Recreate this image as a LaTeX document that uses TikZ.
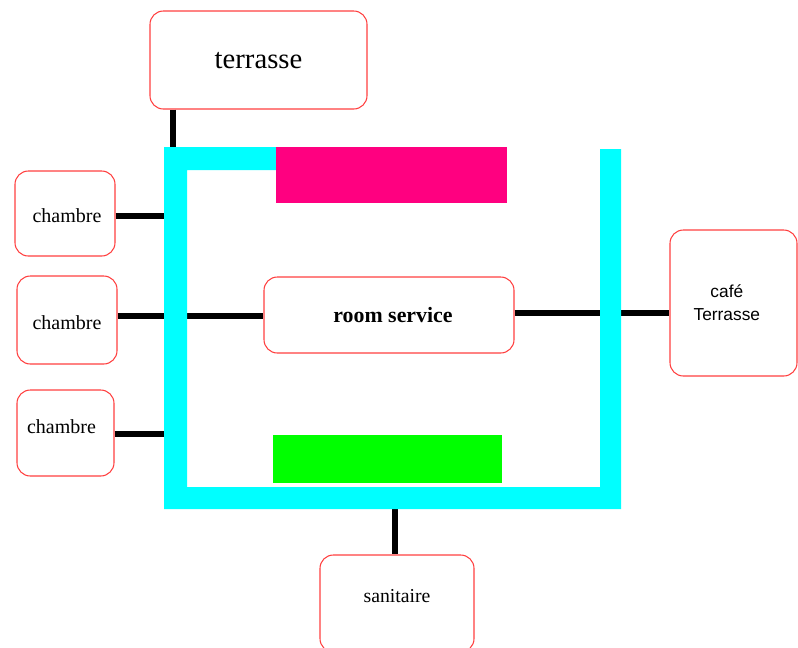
\documentclass[tikz,border=0pt]{standalone}
\usepackage{fontspec}
\setmainfont{Liberation Serif}
\newfontfamily\cafefont{Liberation Sans}
\usetikzlibrary{positioning}
\definecolor{planred}{RGB}{255,64,64}
\definecolor{plancyan}{RGB}{0,255,255}
\definecolor{planpink}{RGB}{255,0,128}
\definecolor{plangreen}{RGB}{0,255,0}

\begin{document}
\begin{tikzpicture}[
  x=0.75pt, y=-0.75pt,
  room/.style={draw=planred, line width=0.8pt, rounded corners=10pt, fill=white, inner sep=0pt, align=center},
  link/.style={line width=5pt, black},
  wall/.style={fill=plancyan},
]
\useasboundingbox (0,0) rectangle (798,647);

% Rooms
\node[room, minimum width=162.75pt, minimum height=73.5pt, font=\fontsize{21.5}{25}\selectfont] (terrasse) at (258.5,60) {\smash{\raisebox{-6.5pt}{terrasse}}};
\node[room, minimum width=75pt, minimum height=63.75pt, font=\fontsize{15}{18}\selectfont] (ch1) at (65,213.5) {\hspace*{3pt}\smash{\raisebox{-7pt}{chambre}}};
\node[room, minimum width=75pt, minimum height=66pt, font=\fontsize{15}{18}\selectfont] (ch2) at (67,320) {\smash{\raisebox{-6.75pt}{chambre}}};
\node[room, minimum width=72.75pt, minimum height=64.5pt, font=\fontsize{15}{18}\selectfont] (ch3) at (65.5,433) {\smash{chambre}\hspace*{6pt}};
\node[room, minimum width=187.5pt, minimum height=57pt, font=\fontsize{16.4}{19}\selectfont\bfseries] (rs) at (389,315) {\hspace*{6pt}\smash{\raisebox{-5.6pt}{room service}}};
\node[room, minimum width=95.25pt, minimum height=109.5pt, font=\fontsize{13}{16.5}\selectfont\cafefont] (cafe) at (733.5,303) {\raisebox{1pt}{caf\'e}\hspace*{10pt}\\Terrasse\hspace*{10pt}};
\node[room, minimum width=115.5pt, minimum height=72.75pt, font=\fontsize{14.8}{18}\selectfont] (san) at (397,603.5) {\smash{\raisebox{0.4pt}{sanitaire}}};

% Joints on the corridor
\coordinate (tjoin) at (173,147);
\coordinate (sjoin) at (395,509);
\coordinate (wallW) at (164,147);

% Connectors
\draw[link] (tjoin |- terrasse.south) -- (tjoin);
\draw[link] (ch1.east |- 0,216) -- (wallW |- 0,216);
\draw[link] (ch2.east |- 0,316) -- (rs.west |- 0,316);
\draw[link] (ch3.east |- 0,434) -- (wallW |- 0,434);
\draw[link] (rs.east |- 0,313) -- (cafe.west |- 0,313);
\draw[link] (sjoin) -- (sjoin |- san.north);

% Corridor
\fill[wall] (164,147) -- (276,147) -- (276,170) -- (187,170) -- (187,487)
  -- (600,487) -- (600,149) -- (621,149) -- (621,509) -- (164,509) -- cycle;
\fill[planpink] (276,147) rectangle (507,203);
\fill[plangreen] (273,435) rectangle (502,483);
\end{tikzpicture}
\end{document}
